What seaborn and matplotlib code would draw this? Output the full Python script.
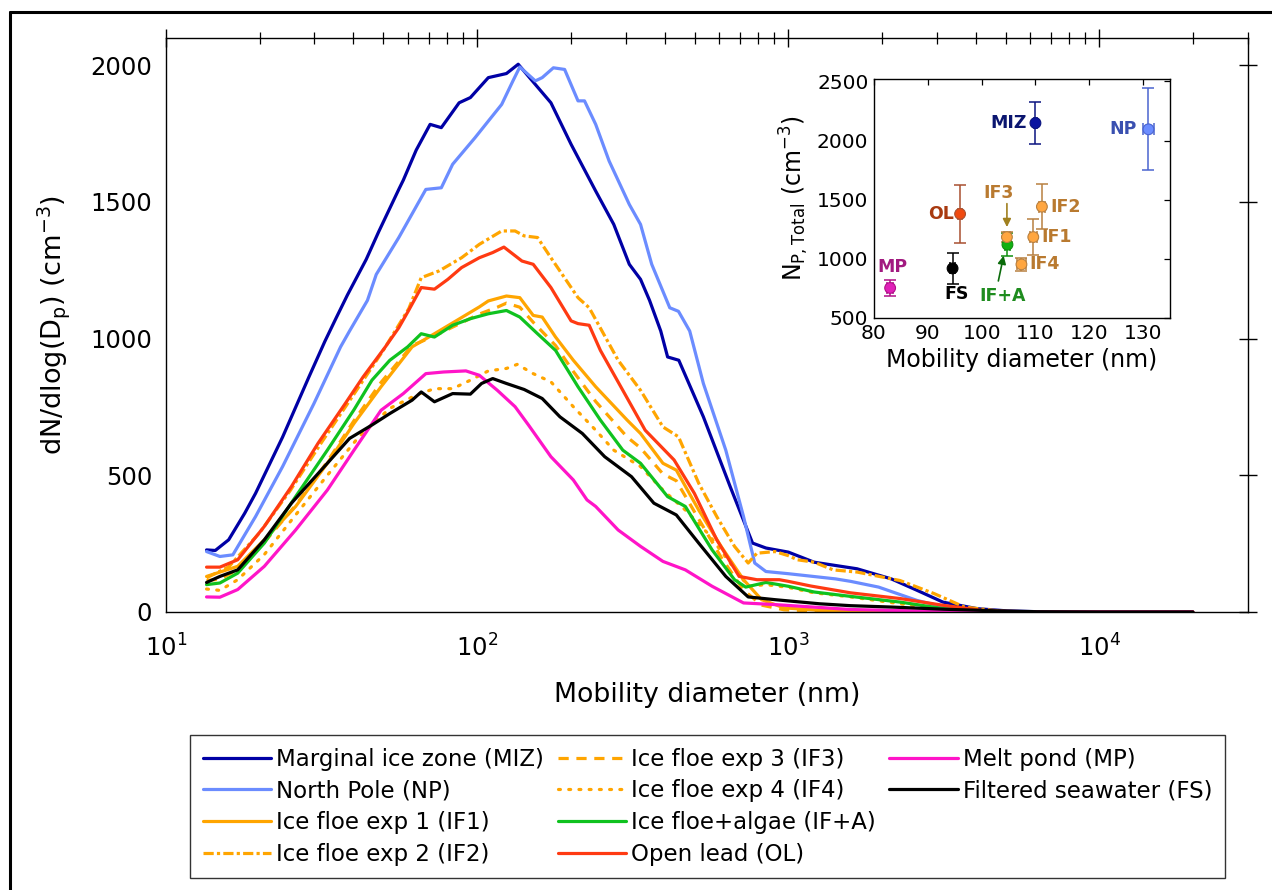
import matplotlib
matplotlib.use("Agg")
import matplotlib.pyplot as plt
from matplotlib.lines import Line2D
from matplotlib.ticker import LogLocator, NullFormatter
import seaborn as sns
import pandas as pd

# style: MATLAB-like figure, white background
sns.set_theme(style="white")
plt.rcParams.update({
    "font.family": ["DejaVu Sans"],
    "mathtext.fontset": "dejavusans",
    "axes.edgecolor": "black",
    "axes.linewidth": 1.0,
    "xtick.color": "black",
    "ytick.color": "black",
    "text.color": "black",
    "axes.labelcolor": "black",
})

# size distributions, diameter (nm) and dN/dlogDp (cm-3)
d_miz = [13.5, 14.4, 15.9, 17.9, 19.4, 23.7, 28.8, 32.4, 35.2, 38.3, 44.0, 48.2, 56.2, 57.9,
         63.7, 70.6, 76.7, 87.5, 95.1, 108.6, 124.2, 135.5, 153.8, 172.6, 200.4, 240.4,
         274.8, 308.3, 335.0, 358.1, 389.0, 409.3, 444.6, 533.3, 650.1, 767.4, 847.2, 935.4,
         1000, 1211, 1663, 2143, 2594, 3141, 4046, 5047, 6310, 10000, 19950]
n_miz = [227, 225, 264, 361, 434, 640, 860, 990, 1075, 1160, 1290, 1390, 1550, 1580,
         1690, 1784, 1772, 1863, 1882, 1955, 1970, 2004, 1930, 1863, 1711, 1540,
         1418, 1272, 1217, 1140, 1028, 933, 921, 714, 459, 252, 234, 225,
         219, 182, 158, 121, 79, 36, 12, 4, 1, 0, 0]

d_np = [13.5, 14.9, 16.4, 19.4, 23.7, 29.9, 36.4, 38.9, 44.4, 47.4, 56.0, 68.4, 76.7, 83.4,
        98.4, 108.6, 119.9, 130.3, 137.1, 153.8, 161.8, 175.8, 191.0, 210.9, 221.3, 240.4,
        265.5, 308.3, 335.0, 363.9, 415.9, 443.6, 482.0, 533.3, 629.5, 717.8, 779.8, 847.2,
        1000, 1419, 1585, 1950, 2594, 3342, 4305, 6310, 10000, 19950]
n_np = [221, 203, 209, 349, 532, 763, 970, 1028, 1140, 1235, 1370, 1546, 1552, 1638,
        1735, 1796, 1857, 1943, 1994, 1943, 1955, 1991, 1985, 1870, 1870, 1784,
        1650, 1491, 1418, 1272, 1113, 1100, 1028, 836, 592, 349, 179, 148,
        140, 121, 112, 91, 42, 12, 2, 0, 0, 0]

d_if1 = [13.5, 17.0, 20.7, 26.1, 33.0, 40.2, 49.1, 61.8, 72.9, 86.1, 101.6, 108.6, 124.2,
         137.1, 151.4, 161.8, 178.6, 203.7, 240.4, 303.4, 335.0, 395.4, 436.5, 515.2, 608.1,
         717.8, 820.4, 968.3, 1259, 1585, 2291, 3981, 10000, 19950]
n_if1 = [130, 167, 264, 386, 544, 690, 824, 970, 1018, 1067, 1116, 1138, 1156,
         1150, 1085, 1079, 1006, 921, 824, 702, 653, 544, 519, 373, 240,
         118, 45, 15, 6, 3, 1, 0, 0, 0]

d_if2 = [13.5, 15.9, 20.0, 25.1, 31.6, 39.8, 50.1, 60.3, 66.1, 75.5, 89.1, 101.6, 119.9,
         132.4, 141.6, 156.3, 172.6, 197.2, 210.9, 229.1, 283.8, 335.0, 395.4, 443.6, 515.2,
         588.8, 671.4, 743.0, 792.5, 905.7, 1000, 1069, 1211, 1393, 1663, 2286, 2944, 3681,
         5047, 10000, 19950]
n_if2 = [125, 165, 290, 445, 620, 790, 960, 1110, 1223, 1248, 1296, 1345, 1394,
         1394, 1376, 1370, 1296, 1199, 1150, 1113, 921, 811, 677, 641, 471,
         349, 240, 179, 215, 221, 206, 191, 182, 154, 146, 115, 67, 18,
         0, 0, 0]

d_if3 = [13.5, 14.9, 17.0, 20.7, 26.1, 33.0, 40.2, 49.1, 61.8, 72.9, 86.1, 101.6, 116.1,
         124.2, 137.1, 151.4, 178.6, 203.7, 240.4, 303.4, 335.0, 395.4, 436.5, 515.2, 608.1,
         717.8, 820.4, 968.3, 1259, 1585, 2291, 10000, 19950]
n_if3 = [115, 120, 155, 255, 390, 550, 700, 840, 975, 1010, 1050, 1090, 1115,
         1130, 1115, 1060, 975, 880, 770, 640, 600, 505, 480, 340, 200,
         80, 25, 8, 3, 1, 0, 0, 0]

d_if4 = [13.5, 14.9, 17.0, 20.7, 26.1, 33.0, 41.6, 52.4, 64.0, 72.9, 83.4, 95.1, 108.6,
         124.2, 134.6, 151.4, 172.6, 203.7, 240.4, 274.8, 335.0, 395.4, 466.7, 550.8, 650.1,
         743.0, 847.2, 1000, 1211, 1585, 2291, 3162, 4305, 6310, 10000, 19950]
n_if4 = [84, 79, 118, 210, 355, 500, 640, 745, 795, 817, 817, 848, 882,
         891, 906, 872, 842, 751, 665, 592, 532, 446, 373, 288, 179,
         94, 100, 90, 70, 55, 30, 10, 2, 0, 0, 0]

d_ifa = [13.5, 14.9, 17.0, 20.7, 26.1, 33.0, 40.2, 45.9, 52.4, 59.8, 66.1, 72.9, 83.4,
         95.1, 108.6, 124.2, 137.1, 156.3, 178.6, 210.9, 248.9, 293.8, 335.0, 409.3, 466.7,
         568.9, 671.4, 729.5, 847.2, 1000, 1211, 1585, 2291, 3162, 4305, 6310, 10000, 19950]
n_ifa = [100, 106, 142, 252, 422, 592, 740, 848, 921, 970, 1018, 1006, 1049,
         1073, 1091, 1103, 1079, 1018, 957, 824, 702, 592, 544, 422, 386,
         227, 118, 91, 108, 94, 73, 57, 36, 12, 3, 0, 0, 0]

d_ol = [13.5, 14.9, 17.0, 20.7, 25.3, 30.8, 37.7, 43.0, 50.7, 56.0, 60.0, 66.1, 72.9,
        80.5, 89.1, 101.6, 112.2, 121.9, 139.3, 151.4, 172.6, 200.4, 210.9, 229.1, 248.9,
        293.8, 346.7, 429.5, 498.9, 588.8, 695.0, 792.5, 935.4, 1000, 1180, 1585, 2291,
        3162, 4305, 6310, 10000, 19950]
n_ol = [164, 164, 191, 313, 459, 617, 763, 860, 970, 1040, 1100, 1187, 1181,
        1217, 1260, 1296, 1315, 1335, 1284, 1272, 1187, 1065, 1055, 1049, 957,
        811, 665, 556, 434, 264, 130, 118, 118, 112, 95, 70, 49,
        24, 4, 0, 0, 0]

d_mp = [13.5, 14.9, 17.0, 20.7, 26.1, 33.0, 40.2, 49.1, 57.9, 68.4, 78.0, 92.0, 101.6,
        116.1, 132.4, 146.2, 172.6, 203.7, 225.4, 240.4, 283.8, 335.0, 395.4, 466.7, 568.9,
        717.8, 905.7, 1585, 2500, 3981, 6310, 10000, 19950]
n_mp = [55, 54, 82, 167, 300, 446, 592, 738, 799, 872, 878, 882, 866,
        811, 751, 684, 568, 483, 410, 386, 300, 240, 185, 154, 94,
        33, 27, 9, 4, 1, 0, 0, 0]

d_fs = [13.5, 14.9, 17.0, 20.7, 25.3, 33.0, 38.9, 45.9, 52.4, 61.8, 66.1, 72.9, 83.4,
        95.1, 103.3, 112.2, 124.2, 141.6, 161.8, 184.5, 217.8, 257.0, 313.3, 369.8, 436.5,
        515.2, 629.5, 743.0, 905.7, 1259, 1585, 2143, 3162, 5047, 6310, 10000, 19950]
n_fs = [108, 130, 154, 264, 398, 544, 635, 684, 726, 775, 805, 769, 799,
        797, 836, 854, 836, 814, 781, 714, 653, 568, 495, 398, 355,
        252, 130, 55, 45, 30, 23, 18, 10, 3, 1, 0, 0]

# inset: total number concentration vs mean mobility diameter
pt_names = ["MIZ", "NP", "OL", "IF1", "IF2", "IF+A", "IF3", "IF4", "FS", "MP"]
pt_d = [110.0, 131.0, 96.0, 109.6, 111.2, 104.8, 104.7, 107.4, 94.6, 83.0]
pt_n = [2148, 2095, 1380, 1184, 1441, 1120, 1184, 953, 919, 754]
pt_derr = [0.3, 1.0, 0.4, 0.7, 0.5, 0.4, 0.5, 0.9, 0.5, 0.6]
pt_nerr = [180, 345, 243, 153, 188, 100, 40, 52, 130, 65]

C_MIZ = "#0000a5"
C_NP = "#6b8cff"
C_IF = "#ffa500"
C_IFA = "#0fc21f"
C_OL = "#ff3a12"
C_MP = "#ff14c8"
C_FS = "black"

series = [
    ("Marginal ice zone (MIZ)", d_miz, n_miz, C_MIZ, "-"),
    ("North Pole (NP)", d_np, n_np, C_NP, "-"),
    ("Ice floe exp 1 (IF1)", d_if1, n_if1, C_IF, "-"),
    ("Ice floe exp 2 (IF2)", d_if2, n_if2, C_IF, (0, (3.2, 1.0, 1.0, 1.0))),
    ("Ice floe exp 3 (IF3)", d_if3, n_if3, C_IF, (0, (3.2, 2.4))),
    ("Ice floe exp 4 (IF4)", d_if4, n_if4, C_IF, (0, (0.6, 2.6))),
    ("Ice floe+algae (IF+A)", d_ifa, n_ifa, C_IFA, "-"),
    ("Open lead (OL)", d_ol, n_ol, C_OL, "-"),
    ("Melt pond (MP)", d_mp, n_mp, C_MP, "-"),
    ("Filtered seawater (FS)", d_fs, n_fs, C_FS, "-"),
]

fig = plt.figure(figsize=(12.72, 8.9), dpi=100)
ax = fig.add_axes([0.1305, 0.3124, 0.8506, 0.6449])
ax.set_xscale("log")

handles = []
for name, d, n, color, ls in series:
    df = pd.DataFrame({"d": d, "n": n})
    capstyle = "round" if name.endswith("(IF4)") else "butt"
    sns.lineplot(data=df, x="d", y="n", ax=ax, color=color, linewidth=2.3,
                 linestyle=ls, sort=False, legend=False, dash_capstyle=capstyle)
    handles.append(Line2D([], [], color=color, linewidth=2.3, linestyle=ls,
                          dash_capstyle=capstyle))

ax.set_xlim(10, 3e4)
ax.set_ylim(0, 2100)
ax.set_yticks([0, 500, 1000, 1500, 2000])
ax.xaxis.set_major_locator(LogLocator(base=10, numticks=10))
ax.xaxis.set_minor_locator(LogLocator(base=10, subs=range(2, 10), numticks=100))
ax.xaxis.set_minor_formatter(NullFormatter())
ax.tick_params(which="both", direction="inout", top=True, right=True)
ax.tick_params(which="major", length=13, width=1.0, labelsize=17.5)
ax.tick_params(axis="x", which="major", pad=10)
ax.tick_params(which="minor", length=9, width=0.9)
ax.set_xlabel("Mobility diameter (nm)", fontsize=19.3, labelpad=14)
ax.set_ylabel(r"dN/dlog(D$_\mathrm{p}$) (cm$^{-3}$)", fontsize=19.5, labelpad=13)

# inset
ins = fig.add_axes([0.6871, 0.6427, 0.2327, 0.2685])
pt_face = {"MIZ": "#0a14a0", "NP": "#6b8cff", "OL": "#f04a10", "IF1": "#ffa640",
           "IF2": "#ffa640", "IF3": "#ffa640", "IF4": "#ffa640", "IF+A": "#12b012",
           "FS": "black", "MP": "#e020b8"}
pt_bar = {"MIZ": "#0a1480", "NP": "#4a64d0", "OL": "#a85030", "IF1": "#b88040",
          "IF2": "#b88040", "IF3": "#b88040", "IF4": "#b88040", "IF+A": "#109010",
          "FS": "black", "MP": "#b01088"}
for name, x, y, xe, ye in zip(pt_names, pt_d, pt_n, pt_derr, pt_nerr):
    ins.errorbar(x, y, xerr=xe, yerr=ye, fmt="none", ecolor=pt_bar[name],
                 elinewidth=1.1, capsize=4, capthick=1.1, zorder=2)
pts = pd.DataFrame({"d": pt_d, "n": pt_n, "name": pt_names})
sns.scatterplot(data=pts, x="d", y="n", hue="name", palette=pt_face, ax=ins,
                s=60, edgecolor=[pt_bar[k] for k in pt_names], linewidth=0.8,
                legend=False, zorder=3)

lab_col = {"MIZ": "#0b1670", "NP": "#3a50b0", "OL": "#a83a10", "IF": "#b97a30",
           "IF+A": "#1e8c1e", "FS": "black", "MP": "#a21a80"}
lab_kw = dict(fontsize=12.5, fontweight="bold", va="center")
ins.text(108.4, 2148, "MIZ", color=lab_col["MIZ"], ha="right", **lab_kw)
ins.text(128.8, 2095, "NP", color=lab_col["NP"], ha="right", **lab_kw)
ins.text(94.9, 1380, "OL", color=lab_col["OL"], ha="right", **lab_kw)
ins.text(103.2, 1556, "IF3", color=lab_col["IF"], ha="center", **lab_kw)
ins.text(112.8, 1441, "IF2", color=lab_col["IF"], ha="left", **lab_kw)
ins.text(111.1, 1184, "IF1", color=lab_col["IF"], ha="left", **lab_kw)
ins.text(108.9, 960, "IF4", color=lab_col["IF"], ha="left", **lab_kw)
ins.text(99.6, 682, "IF+A", color=lab_col["IF+A"], ha="left", **lab_kw)
ins.text(95.3, 704, "FS", color=lab_col["FS"], ha="center", **lab_kw)
ins.text(83.5, 933, "MP", color=lab_col["MP"], ha="center", **lab_kw)
ins.annotate("", xy=(104.7, 1245), xytext=(104.7, 1490),
             arrowprops=dict(arrowstyle="-|>", color="#a08020", lw=1.2, mutation_scale=12))
ins.annotate("", xy=(104.2, 1050), xytext=(103.0, 790),
             arrowprops=dict(arrowstyle="-|>", color="#0b6b0b", lw=1.2, mutation_scale=12))

ins.set_xlim(80, 135)
ins.set_ylim(500, 2520)
ins.set_xticks([80, 90, 100, 110, 120, 130])
ins.set_yticks([500, 1000, 1500, 2000, 2500])
ins.tick_params(direction="in", top=True, right=True, length=4, width=0.9,
                labelsize=14.5, pad=4)
ins.set_xlabel("Mobility diameter (nm)", fontsize=17, labelpad=4)
ins.set_ylabel(r"N$_{\mathrm{P,Total}}$ (cm$^{-3}$)", fontsize=17, labelpad=4)

# legend, filled column-wise, two blank slots so the last column holds two entries
labels = [s[0] for s in series]
blank = Line2D([], [], alpha=0)
leg_handles = handles[:8] + [handles[8], handles[9], blank, blank]
leg_labels = labels[:8] + [labels[8], labels[9], "", ""]
leg = fig.legend(leg_handles, leg_labels, ncol=3, loc="upper left",
                 bbox_to_anchor=(190 / 1272, 1 - 735 / 890), frameon=True, fancybox=False,
                 edgecolor="black", fontsize=16.5, handlelength=3.0, handletextpad=0.2,
                 columnspacing=0.6, labelspacing=0.38, borderpad=0.55, borderaxespad=0)
leg.get_frame().set_linewidth(1.0)

# outer figure border (left and top edges)
fig.add_artist(Line2D([10 / 1272, 10 / 1272], [0, 1 - 12 / 890], transform=fig.transFigure,
                      color="black", linewidth=2.2))
fig.add_artist(Line2D([10 / 1272, 1], [1 - 12 / 890, 1 - 12 / 890], transform=fig.transFigure,
                      color="black", linewidth=2.2))

fig.savefig("out.png", dpi=100)
